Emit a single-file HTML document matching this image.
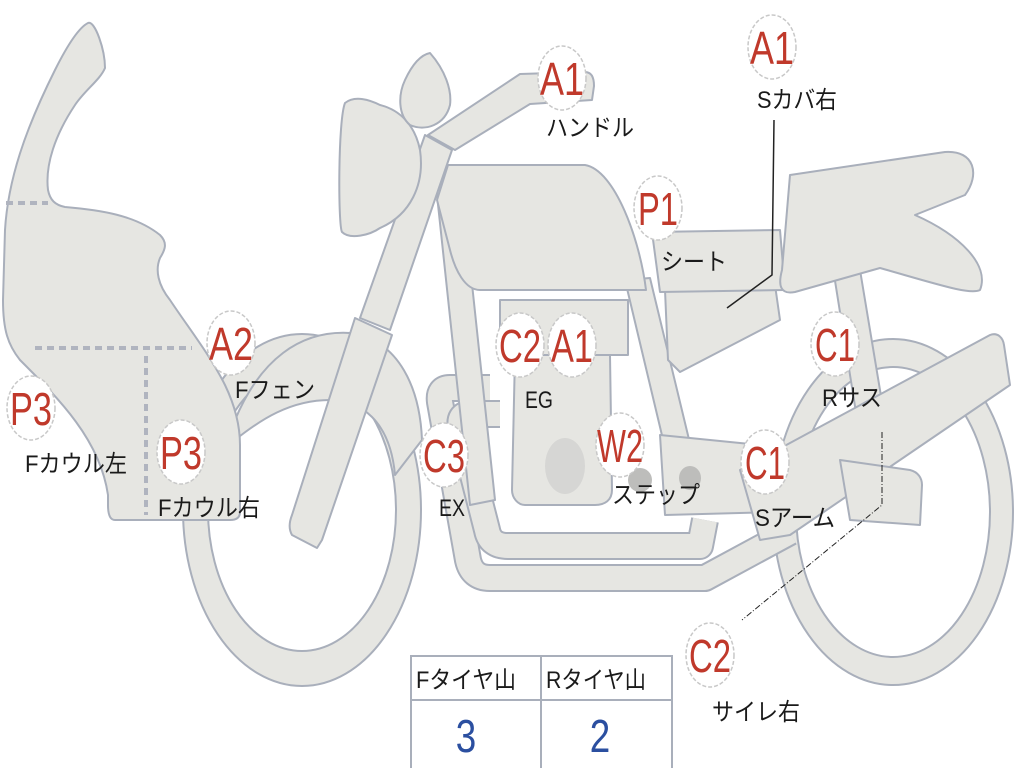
<!DOCTYPE html>
<html><head><meta charset="utf-8"><style>
html,body{margin:0;padding:0;background:#fff;width:1024px;height:768px;overflow:hidden}
svg{display:block}
.s{fill:#e6e6e2;stroke:#a9afbb;stroke-width:2;stroke-linejoin:round}
.b{fill:#fff;stroke:#c8c8c8;stroke-width:1.5;stroke-dasharray:4 2}
.r{fill:#c0392b;font-family:"Liberation Sans",sans-serif;font-size:46px}
.k{fill:#1a1a1a;font-family:"Liberation Sans","Noto Sans CJK JP",sans-serif;font-size:24px}
.po{fill:none;stroke:#a9afbb;stroke-width:28;stroke-linejoin:round;stroke-linecap:butt}
.pi{fill:none;stroke:#e6e6e2;stroke-width:24;stroke-linejoin:round;stroke-linecap:butt}
</style></head><body>
<svg width="1024" height="768" viewBox="0 0 1024 768" xmlns="http://www.w3.org/2000/svg">
<!-- rear wheel -->
<ellipse class="s" cx="893" cy="512" rx="120" ry="173"/>
<ellipse cx="893" cy="512" rx="97" ry="145" fill="#fff" stroke="#a9afbb" stroke-width="2"/>
<!-- front wheel -->
<ellipse class="s" cx="302" cy="510" rx="119" ry="176"/>
<ellipse cx="302" cy="510" rx="94" ry="141" fill="#fff" stroke="#a9afbb" stroke-width="2"/>
<!-- front fender -->
<path class="s" d="M235,420 C260,360 300,330 350,333 C400,340 420,390 422,440 L395,475 C390,420 360,400 330,400 C290,400 260,420 235,440 Z"/>
<!-- rear shock -->
<path class="s" d="M832,262 L858,258 L885,420 L858,425 Z"/>
<!-- exhaust pipes -->
<path class="po" d="M490,388 L450,388 Q438,388 440,402 L468,560 Q472,578 490,578 L705,578 L790,532"/>
<path class="pi" d="M490,388 L450,388 Q438,388 440,402 L468,560 Q472,578 490,578 L705,578 L790,532"/>
<path class="po" d="M500,414 L470,414 Q458,414 461,428 L487,530 Q490,546 508,546 L700,546 L705,520"/>
<path class="pi" d="M500,414 L470,414 Q458,414 461,428 L487,530 Q490,546 508,546 L700,546 L705,520"/>
<!-- frame tubes -->
<path class="s" d="M437,195 L462,190 L495,500 L470,505 Z"/>
<path class="s" d="M625,280 L650,278 L700,485 L675,490 Z"/>
<!-- engine -->
<path class="s" d="M515,355 L610,355 L612,490 C612,500 605,505 595,505 L525,505 C518,505 512,498 512,490 Z"/>
<ellipse cx="565" cy="466" rx="20" ry="28" fill="#d6d6d4"/>
<path class="s" d="M500,300 L628,300 L628,355 L500,355 Z"/>
<!-- step bar -->
<path class="s" d="M660,435 L760,445 L775,512 L665,515 Z"/>
<ellipse cx="640" cy="480" rx="12" ry="12" fill="#bdbdbb"/>
<ellipse cx="690" cy="478" rx="11" ry="12" fill="#bdbdbb"/>
<!-- swingarm -->
<path class="s" d="M740,470 L990,335 C998,332 1003,338 1004,345 L1010,385 L790,535 L760,540 Z"/>
<path class="s" d="M840,460 L910,470 C918,472 922,478 922,485 L920,525 L850,520 Z"/>
<!-- side cover -->
<path class="s" d="M665,290 L775,285 L780,320 L680,372 L668,360 Z"/>
<!-- seat -->
<path class="s" d="M652,232 L780,230 L785,290 L660,292 Z"/>
<!-- rear cowl -->
<path class="s" d="M790,175 L945,152 C975,150 980,175 965,195 L915,215 C960,235 990,265 980,290 C970,295 940,285 880,268 L795,292 C780,295 778,285 782,270 Z"/>
<!-- tank -->
<path class="s" d="M448,165 L585,165 C615,170 640,240 646,290 L480,290 C465,290 455,270 450,250 L437,200 Z"/>
<!-- handlebar -->
<path class="s" d="M428,135 L520,74 L585,72 C592,72 594,78 594,86 L592,100 L530,104 L455,150 Z"/>
<!-- upper fork -->
<path class="s" d="M425,135 L452,150 L390,330 L360,318 Z"/>
<!-- lower fork -->
<path class="s" d="M355,318 L392,335 L322,540 L317,548 L292,535 C288,528 290,520 292,515 Z"/>
<!-- headlight -->
<path class="s" d="M345,103 C355,95 370,100 380,105 C400,110 415,125 420,150 C425,185 410,215 380,228 C370,235 350,240 342,232 C338,225 338,120 345,103 Z"/>
<!-- mirror -->
<path class="s" d="M430,53 C445,70 452,90 450,105 C445,125 425,132 410,125 C398,115 398,95 405,80 C412,65 420,55 430,53 Z"/>
<!-- cowl -->
<path class="s" d="M88,23 C95,20 105,50 105,68 C100,80 85,90 75,105 C55,135 45,165 48,190 C50,200 55,205 65,207 C100,210 135,215 160,235 C168,243 165,250 160,258 C155,270 158,285 170,300 C190,330 210,355 225,385 C237,410 240,430 240,445 L240,512 C240,518 236,520 230,520 L115,520 C110,520 108,515 108,505 L108,495 C100,440 60,400 20,360 C8,345 3,330 3,300 L5,230 C8,180 25,130 55,70 C65,50 78,28 88,23 Z"/>
<g stroke="#b0b4bf" stroke-width="4" stroke-dasharray="7 5" fill="none">
<line x1="6" y1="203" x2="48" y2="203"/>
<line x1="35" y1="348" x2="192" y2="348"/>
<line x1="146" y1="356" x2="146" y2="515"/>
</g>
<!-- leader lines -->
<path d="M774,120 L772,275 L727,308" fill="none" stroke="#222" stroke-width="1.5"/>
<path d="M882,432 L882,505 L742,620" fill="none" stroke="#222" stroke-width="1" stroke-dasharray="6 2 1 2"/>
<!-- table -->
<g fill="#fff" stroke="#a9afbb" stroke-width="2">
<rect x="411" y="656" width="261" height="114"/>
<line x1="411" y1="700" x2="672" y2="700"/>
<line x1="541" y1="656" x2="541" y2="770"/>
</g>
<text class="k" x="416" y="688" textLength="100" lengthAdjust="spacingAndGlyphs">Fタイヤ山</text>
<text class="k" x="546" y="688" textLength="100" lengthAdjust="spacingAndGlyphs">Rタイヤ山</text>
<text x="466" y="752" font-family="Liberation Sans,sans-serif" font-size="46" fill="#2b4fa0" text-anchor="middle" transform="translate(466 0) scale(0.8 1) translate(-466 0)">3</text>
<text x="600" y="752" font-family="Liberation Sans,sans-serif" font-size="46" fill="#2b4fa0" text-anchor="middle" transform="translate(600 0) scale(0.8 1) translate(-600 0)">2</text>
<!-- badges -->
<g>
<ellipse class="b" cx="562" cy="78" rx="24" ry="32"/>
<ellipse class="b" cx="772" cy="47" rx="24" ry="32"/>
<ellipse class="b" cx="658" cy="208" rx="24" ry="32"/>
<ellipse class="b" cx="231" cy="343" rx="24" ry="32"/>
<ellipse class="b" cx="520" cy="345" rx="24" ry="32"/>
<ellipse class="b" cx="572" cy="345" rx="24" ry="32"/>
<ellipse class="b" cx="31" cy="408" rx="24" ry="32"/>
<ellipse class="b" cx="181" cy="452" rx="24" ry="32"/>
<ellipse class="b" cx="444" cy="455" rx="24" ry="32"/>
<ellipse class="b" cx="620" cy="445" rx="24" ry="32"/>
<ellipse class="b" cx="765" cy="462" rx="24" ry="32"/>
<ellipse class="b" cx="835" cy="344" rx="24" ry="32"/>
<ellipse class="b" cx="710" cy="655" rx="24" ry="32"/>
</g>
<g class="r" text-anchor="middle">
<text x="562" y="95" class="r" textLength="44" lengthAdjust="spacingAndGlyphs">A1</text>
<text x="772" y="64" class="r" textLength="44" lengthAdjust="spacingAndGlyphs">A1</text>
<text x="658" y="225" class="r" textLength="40" lengthAdjust="spacingAndGlyphs">P1</text>
<text x="231" y="360" class="r" textLength="44" lengthAdjust="spacingAndGlyphs">A2</text>
<text x="520" y="362" class="r" textLength="42" lengthAdjust="spacingAndGlyphs">C2</text>
<text x="572" y="362" class="r" textLength="42" lengthAdjust="spacingAndGlyphs">A1</text>
<text x="31" y="425" class="r" textLength="42" lengthAdjust="spacingAndGlyphs">P3</text>
<text x="181" y="469" class="r" textLength="42" lengthAdjust="spacingAndGlyphs">P3</text>
<text x="444" y="472" class="r" textLength="42" lengthAdjust="spacingAndGlyphs">C3</text>
<text x="620" y="462" class="r" textLength="46" lengthAdjust="spacingAndGlyphs">W2</text>
<text x="765" y="479" class="r" textLength="40" lengthAdjust="spacingAndGlyphs">C1</text>
<text x="835" y="361" class="r" textLength="40" lengthAdjust="spacingAndGlyphs">C1</text>
<text x="710" y="672" class="r" textLength="42" lengthAdjust="spacingAndGlyphs">C2</text>
</g>
<g>
<text class="k" x="546" y="136" textLength="88" lengthAdjust="spacingAndGlyphs">ハンドル</text>
<text class="k" x="757" y="108" textLength="80" lengthAdjust="spacingAndGlyphs">Sカバ右</text>
<text class="k" x="661" y="270" textLength="66" lengthAdjust="spacingAndGlyphs">シート</text>
<text class="k" x="235" y="398" textLength="80" lengthAdjust="spacingAndGlyphs">Fフェン</text>
<text class="k" x="525" y="408" textLength="28" lengthAdjust="spacingAndGlyphs">EG</text>
<text class="k" x="25" y="472" textLength="102" lengthAdjust="spacingAndGlyphs">Fカウル左</text>
<text class="k" x="158" y="516" textLength="102" lengthAdjust="spacingAndGlyphs">Fカウル右</text>
<text class="k" x="439" y="516" textLength="26" lengthAdjust="spacingAndGlyphs">EX</text>
<text class="k" x="612" y="503" textLength="88" lengthAdjust="spacingAndGlyphs">ステップ</text>
<text class="k" x="755" y="526" textLength="80" lengthAdjust="spacingAndGlyphs">Sアーム</text>
<text class="k" x="822" y="406" textLength="60" lengthAdjust="spacingAndGlyphs">Rサス</text>
<text class="k" x="712" y="720" textLength="88" lengthAdjust="spacingAndGlyphs">サイレ右</text>
</g>
</svg>
</body></html>
